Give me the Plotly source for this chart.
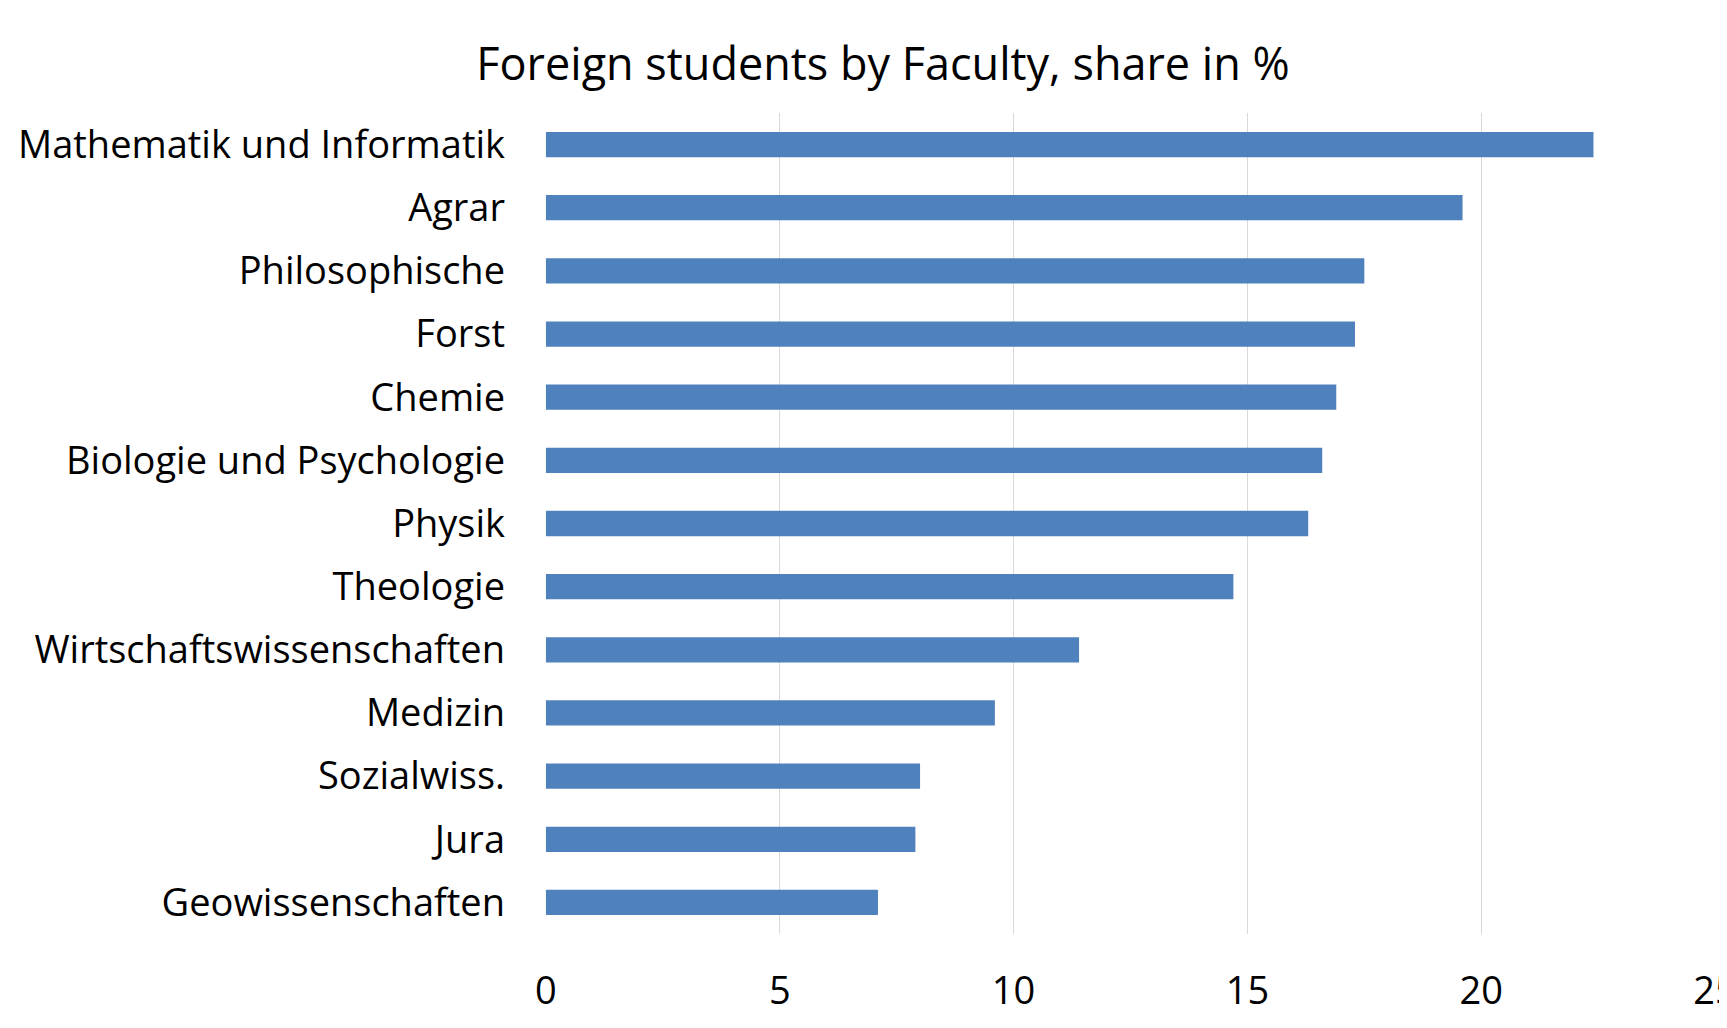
import plotly.graph_objects as go

categories = [
    "Mathematik und Informatik", "Agrar", "Philosophische", "Forst", "Chemie",
    "Biologie und Psychologie", "Physik", "Theologie", "Wirtschaftswissenschaften",
    "Medizin", "Sozialwiss.", "Jura", "Geowissenschaften",
]
shares = [22.4, 19.6, 17.5, 17.3, 16.9, 16.6, 16.3, 14.7, 11.4, 9.6, 8.0, 7.9, 7.1]
x_ticks = [0, 5, 10, 15, 20, 25]

FONT = "Open Sans"

fig = go.Figure(
    go.Bar(
        x=shares,
        y=categories,
        orientation="h",
        marker=dict(color="#4f81bd", line=dict(width=0)),
        width=0.4,
    )
)

fig.update_layout(
    width=1727,
    height=1028,
    paper_bgcolor="white",
    plot_bgcolor="white",
    margin=dict(l=537, r=19, t=105, b=102),
    showlegend=False,
    font=dict(family=FONT, color="black"),
    title=dict(
        text="Foreign students by Faculty, share in %",
        font=dict(family=FONT, size=45, color="black"),
        x=875 / 1727,
        xanchor="center",
        xref="container",
        y=1 - 56 / 1028,
        yanchor="middle",
        yref="container",
    ),
)

fig.update_xaxes(
    range=[-0.02, 25.02],
    tickvals=x_ticks,
    ticktext=[str(v) for v in x_ticks],
    showgrid=True,
    gridcolor="#d9d9d9",
    gridwidth=1,
    zeroline=False,
    showline=False,
    ticks="",
    tickfont=dict(family=FONT, size=38, color="black"),
    ticklabelstandoff=31,
    ticklabeloverflow="allow",
    automargin=False,
)

fig.update_yaxes(
    autorange="reversed",
    showgrid=False,
    zeroline=False,
    showline=False,
    ticks="",
    tickfont=dict(family=FONT, size=38, color="black"),
    ticklabelstandoff=39,
    automargin=False,
)

fig.write_html("out.html")
